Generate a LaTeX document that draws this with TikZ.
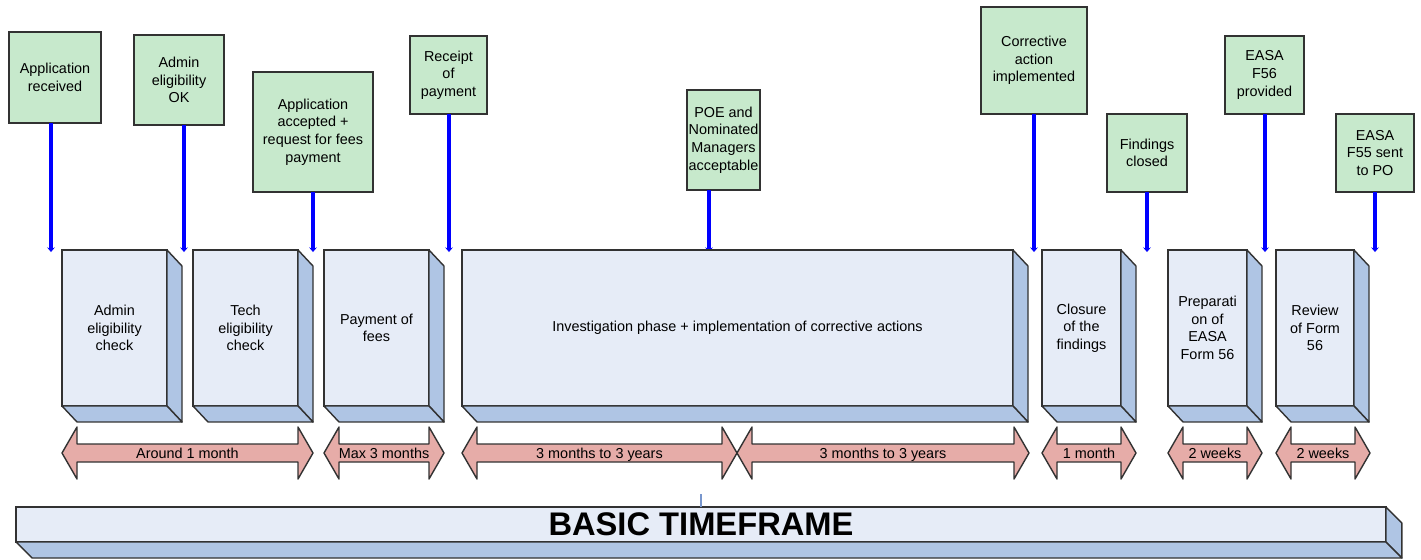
\documentclass[tikz,border=0pt]{standalone}
\usepackage{fontspec}
\setmainfont{Liberation Sans}
\usetikzlibrary{calc,arrows.meta}

\definecolor{msgreen}{RGB}{199,233,204}
\definecolor{boxfront}{RGB}{230,236,247}
\definecolor{boxside}{RGB}{175,197,228}
\definecolor{spanpink}{RGB}{230,172,168}
\definecolor{edge}{RGB}{50,50,50}
\definecolor{markblue}{RGB}{120,150,205}

\begin{document}
\begin{tikzpicture}[x=0.02cm,y=-0.02cm,
  milestone/.style={draw=edge,fill=msgreen,line width=0.8pt,align=center,
    inner sep=0.5pt,outer sep=0pt,font=\fontsize{8.2}{10}\selectfont},
  phase/.style={draw=edge,fill=boxfront,line width=0.8pt,align=center,
    inner sep=0.5pt,outer sep=0pt,minimum height=3.12cm,font=\fontsize{8.2}{10}\selectfont},
  face/.style={draw=edge,fill=boxside,line width=0.8pt,line join=round},
  tick/.style={draw=blue,line width=1.9pt,-{Stealth[length=2.6pt,width=4.4pt]}},
  span/.style={draw=edge,fill=spanpink,line width=0.8pt,line join=round},
  spanlab/.style={font=\fontsize{8.2}{10}\selectfont,inner sep=0pt,anchor=base}]
  \useasboundingbox (0,0) rectangle (1421,559);

  % milestones
  \foreach \n/\xa/\ya/\xb/\yb/\txt in {
      m1/9/32/101/123/{Application\\received},
      m2/134/35/224/125/{Admin\\eligibility\\OK},
      m3/253/72/373/192/{Application\\accepted +\\request for fees\\payment},
      m4/410/36/487/114/{Receipt\\of\\payment},
      m5/687/90/760/190/{POE and\\Nominated\\Managers\\acceptable},
      m6/981/7/1087/114/{Corrective\\action\\implemented},
      m7/1107/114/1187/192/{Findings\\closed},
      m8/1225/36/1304/114/{EASA\\F56\\provided},
      m9/1336/114/1414/192/{EASA\\F55 sent\\to PO}}
    \node[milestone,minimum width={(\xb-\xa)*0.02cm},minimum height={(\yb-\ya)*0.02cm}]
      (\n) at ({(\xa+\xb)/2},{(\ya+\yb)/2}) {\txt};

  \foreach \n/\x in {m1/51,m2/184,m3/313,m4/449,m5/709,m6/1034,m7/1147,m8/1265,m9/1375} {
    \coordinate (t\n) at (\x,252);
    \draw[tick] (\n.south -| t\n) -- (t\n);
  }

  % phases
  \foreach \xa/\xb/\txt [count=\i] in {
      62/167/{Admin\\eligibility\\check},
      193/298/{Tech\\eligibility\\check},
      324/429/{Payment of\\fees},
      462/1013/{Investigation phase + implementation of corrective actions},
      1042/1121/{Closure\\of the\\findings},
      1168/1247/{Preparati\\on of\\EASA\\Form 56},
      1276/1354/{Review\\of Form\\56}} {
    \node[phase,minimum width={(\xb-\xa)*0.02cm}] (p\i) at ({(\xa+\xb)/2},328) {\txt};
    \draw[face] (p\i.north east) -- ++(15,16) -- ++(0,156) -- (p\i.south east) -- cycle;
    \draw[face] (p\i.south west) -- ++(15,16) -- ($(p\i.south east)+(15,16)$) -- (p\i.south east) -- cycle;
  }

  % durations
  \foreach \a/\b/\lab [count=\i] in {62/313/Around 1 month,324/444/Max 3 months,
      462/737/3 months to 3 years,737/1029/3 months to 3 years,
      1042/1136/1 month,1168/1262/2 weeks,1276/1370/2 weeks} {
    \draw[span] (\a,453) -- ({\a+15},427) -- ({\a+15},444) -- ({\b-15},444)
      -- ({\b-15},427) -- (\b,453) -- ({\b-15},479) -- ({\b-15},462)
      -- ({\a+15},462) -- ({\a+15},479) -- cycle;
    \node[spanlab] (d\i) at ({(\a+\b)/2},458) {\lab};
  }

  % timeframe bar
  \node[phase,minimum width=27.4cm,minimum height=0.7cm,
    font=\fontsize{18.6}{22}\selectfont\bfseries] (bar) at (701,524.5) {BASIC TIMEFRAME};
  \draw[face] (bar.north east) -- ++(16,16) -- ++(0,35) -- (bar.south east) -- cycle;
  \draw[face] (bar.south west) -- ++(16,16) -- ($(bar.south east)+(16,16)$) -- (bar.south east) -- cycle;
  \coordinate (mark) at (701,494);
  \draw[markblue,line width=0.6pt] (mark) -- (mark |- bar.north);
\end{tikzpicture}
\end{document}
